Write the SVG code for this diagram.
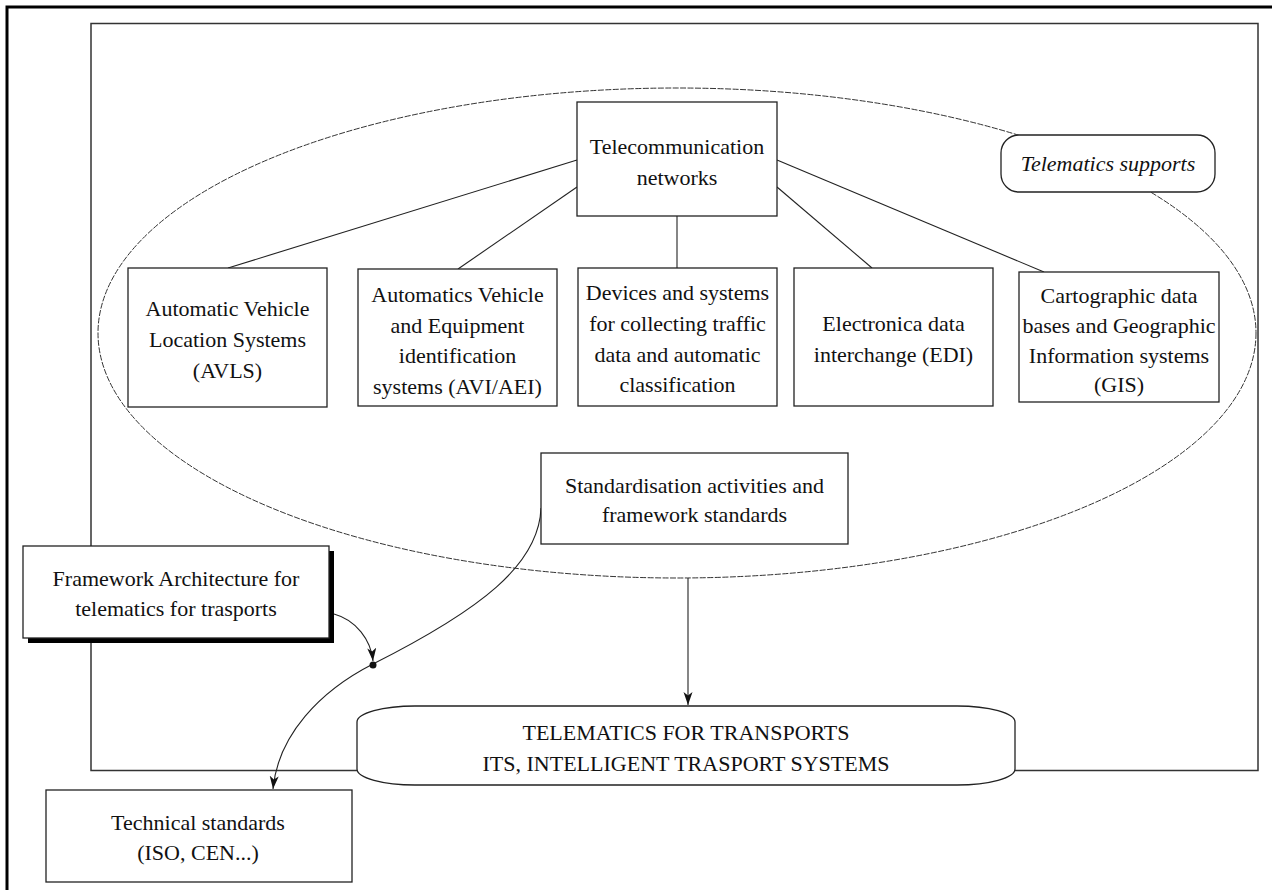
<svg xmlns="http://www.w3.org/2000/svg" width="1272" height="890" viewBox="0 0 1272 890">
<style>
.box{fill:#fff;stroke:#222;stroke-width:1.3}
.t{font-family:"Liberation Serif","Times New Roman",serif;font-size:22px;fill:#111;text-anchor:middle}
.ti{font-style:italic}
.ln{fill:none;stroke:#222;stroke-width:1.1}
</style>
<defs>
<marker id="arr" markerUnits="userSpaceOnUse" markerWidth="14" markerHeight="10" refX="13" refY="4.5" orient="auto">
<path d="M0,0 L13,4.5 L0,9 L3.5,4.5 z" fill="#111"/>
</marker>
</defs>
<rect width="1272" height="890" fill="#fff"/>
<g id="outer-frame"><rect x="7" y="7" width="1290" height="900" fill="none" stroke="#000" stroke-width="3"/></g>
<g id="inner-frame"><rect x="91" y="23.5" width="1167" height="747" fill="none" stroke="#333" stroke-width="1.5"/></g>
<g id="telematics-supports-area">
<ellipse cx="677" cy="333" rx="579" ry="245" fill="none" stroke="#333" stroke-width="1" stroke-dasharray="6,1.5"/>
</g>
<g id="connectors">
<line class="ln" x1="577" y1="160" x2="228" y2="268"/>
<line class="ln" x1="577" y1="187" x2="458" y2="269"/>
<line class="ln" x1="677" y1="216" x2="677" y2="268"/>
<line class="ln" x1="777" y1="187" x2="872" y2="268"/>
<line class="ln" x1="777" y1="160" x2="1044" y2="272"/>
<line class="ln" x1="688" y1="578" x2="688" y2="705" marker-end="url(#arr)"/>
<path class="ln" d="M541,508 C539,565 480,610 373,664 C320,691 278,735 273,789" marker-end="url(#arr)"/>
<path class="ln" d="M334,614 C356,620 371,640 373,661" marker-end="url(#arr)"/>
<circle cx="373" cy="665" r="3.5" fill="#111"/>
</g>
<g id="telecom">
<rect class="box" x="577" y="102" width="200" height="114"/>
<text class="t" x="677" y="154">Telecommunication</text>
<text class="t" x="677" y="185">networks</text>
</g>
<g id="telematics-supports">
<rect class="box" x="1001" y="135" width="214" height="57" rx="18" ry="18"/>
<text class="t ti" x="1108" y="171">Telematics supports</text>
</g>
<g id="avls">
<rect class="box" x="128" y="268" width="199" height="139"/>
<text class="t" x="227.5" y="316">Automatic Vehicle</text>
<text class="t" x="227.5" y="347">Location Systems</text>
<text class="t" x="227.5" y="378">(AVLS)</text>
</g>
<g id="avi">
<rect class="box" x="358" y="269" width="199" height="137"/>
<text class="t" x="457.5" y="302">Automatics Vehicle</text>
<text class="t" x="457.5" y="333">and Equipment</text>
<text class="t" x="457.5" y="363">identification</text>
<text class="t" x="457.5" y="394">systems (AVI/AEI)</text>
</g>
<g id="devices">
<rect class="box" x="578" y="268" width="199" height="138"/>
<text class="t" x="677.5" y="300">Devices and systems</text>
<text class="t" x="677.5" y="331">for collecting traffic</text>
<text class="t" x="677.5" y="362">data and automatic</text>
<text class="t" x="677.5" y="392">classification</text>
</g>
<g id="edi">
<rect class="box" x="794" y="268" width="199" height="138"/>
<text class="t" x="893.5" y="331">Electronica data</text>
<text class="t" x="893.5" y="362">interchange (EDI)</text>
</g>
<g id="gis">
<rect class="box" x="1019" y="272" width="200" height="130"/>
<text class="t" x="1119" y="303">Cartographic data</text>
<text class="t" x="1119" y="333">bases and Geographic</text>
<text class="t" x="1119" y="363">Information systems</text>
<text class="t" x="1119" y="392">(GIS)</text>
</g>
<g id="standardisation">
<rect class="box" x="541" y="453" width="307" height="91"/>
<text class="t" x="694.5" y="493">Standardisation activities and</text>
<text class="t" x="694.5" y="522">framework standards</text>
</g>
<g id="framework">
<rect x="28" y="551" width="306" height="92" fill="#000"/>
<rect class="box" x="23" y="546" width="306" height="92"/>
<text class="t" x="176" y="586">Framework Architecture for</text>
<text class="t" x="176" y="616">telematics for trasports</text>
</g>
<g id="its">
<rect class="box" x="357" y="706" width="658" height="79" rx="58" ry="16"/>
<text class="t" x="686" y="740">TELEMATICS FOR TRANSPORTS</text>
<text class="t" x="686" y="771">ITS, INTELLIGENT TRASPORT SYSTEMS</text>
</g>
<g id="technical">
<rect class="box" x="46" y="790" width="306" height="92"/>
<text class="t" x="198" y="830">Technical standards</text>
<text class="t" x="198" y="860">(ISO, CEN...)</text>
</g>
</svg>
